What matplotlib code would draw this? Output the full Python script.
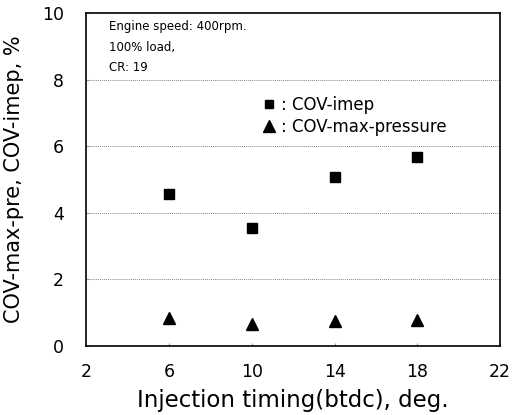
import matplotlib
matplotlib.use("Agg")
from matplotlib import pyplot as plt
from matplotlib.lines import Line2D

# injection timing, deg btdc
timing = [6, 10, 14, 18]
cov_imep = [4.55, 3.55, 5.08, 5.68]
cov_max_pressure = [0.84, 0.67, 0.76, 0.78]

x_ticks = [2, 6, 10, 14, 18, 22]
y_ticks = [0, 2, 4, 6, 8, 10]
conditions = ["Engine speed: 400rpm.", "100% load,", "CR: 19"]

plt.rcParams['font.family'] = ['DejaVu Sans']

fig = plt.figure(figsize=(5.13, 4.15), dpi=100)
ax = fig.add_axes([0.168, 0.166, 0.807, 0.803])

# broken dotted grid lines
for yv in y_ticks[1:-1]:
    ax.axhline(yv, color='#888888', linestyle=(0, (1, 1)), linewidth=0.7, zorder=0)

ax.plot(timing, cov_imep, linestyle='none', marker='s', markersize=7,
        color='black')
ax.plot(timing, cov_max_pressure, linestyle='none', marker='^', markersize=8.5,
        color='black')

ax.set_xlim(2, 22)
ax.set_ylim(0, 10)
ax.set_xticks(x_ticks)
ax.set_yticks(y_ticks)
ax.tick_params(axis='both', direction='in', length=2, labelsize=12.5,
               color='#999999')
ax.tick_params(axis='x', pad=12)
ax.tick_params(axis='y', pad=16)
ax.set_xlabel("Injection timing(btdc), deg.", fontsize=16.5, labelpad=6)
ax.set_ylabel("COV-max-pre, COV-imep, %", fontsize=15, labelpad=13)

for spine in ax.spines.values():
    spine.set_linewidth(1.2)

ax.text(0.055, 0.978, "\n".join(conditions), transform=ax.transAxes,
        fontsize=8.5, va='top', ha='left', linespacing=1.75)

handles = [
    Line2D([], [], linestyle='none', marker='s', markersize=6, color='black'),
    Line2D([], [], linestyle='none', marker='^', markersize=8, color='black'),
]
ax.legend(handles, [": COV-imep", ": COV-max-pressure"], frameon=False,
          loc='upper left', bbox_to_anchor=(0.39, 0.795), fontsize=12,
          handlelength=0.8, handletextpad=0.3, labelspacing=0.2)

fig.savefig("out.png", dpi=100)
